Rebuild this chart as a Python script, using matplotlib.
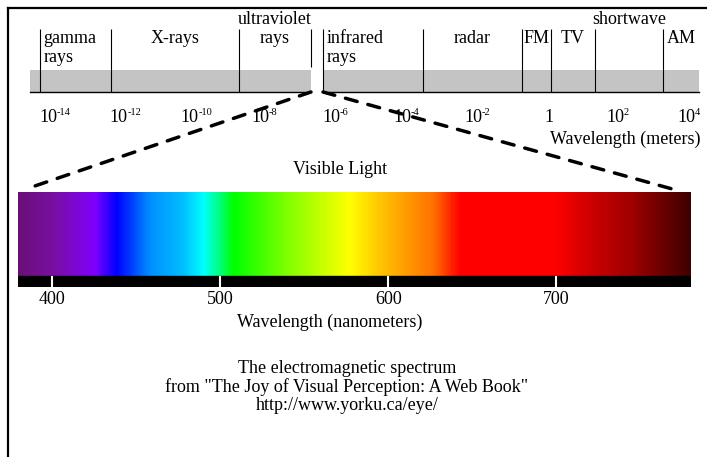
import numpy as np
import matplotlib
matplotlib.use('Agg')
import matplotlib.pyplot as plt
from matplotlib.colors import LinearSegmentedColormap
from matplotlib.patches import ConnectionPatch
from matplotlib.lines import Line2D

plt.rcParams['font.family'] = ['Liberation Serif', 'DejaVu Serif']

# electromagnetic bands, edges in log10(wavelength / m)
band_names = ['gamma\nrays', 'X-rays', 'ultraviolet\nrays', 'infrared\nrays',
              'radar', 'FM', 'TV', 'shortwave', 'AM']
band_lo = [-14.34, -12.34, -8.73, -6.36, -3.54, -0.75, 0.07, 1.31, 3.23]
band_hi = [-12.34, -8.73, -6.70, -3.54, -0.75, 0.07, 1.31, 3.23, 4.24]
strip_left = [-14.63, -6.36]
strip_right = [-6.70, 4.24]

# wavelength ticks (log10 m)
em_ticks = [-14, -12, -10, -8, -6, -4, -2, 0, 2, 4]
em_base = ['10', '10', '10', '10', '10', '10', '10', '1', '10', '10']
em_exp = ['-14', '-12', '-10', '-8', '-6', '-4', '-2', '', '2', '4']

# visible spectrum colours (nm)
vis_nm = [380, 400, 425, 438, 458, 478, 490, 508, 540, 577, 597, 627, 643, 700, 716, 745, 780]
vis_col = ['#6a0f7a', '#7810a0', '#8000ff', '#0000ff', '#0090ff', '#00c0ff', '#00ffff',
           '#00ff00', '#80ff00', '#ffff00', '#ffc000', '#ff7000', '#ff0000', '#ff0000',
           '#d80000', '#a00000', '#400000']
vis_ticks = [400, 500, 600, 700]

W, H = 707, 457
fig = plt.figure(figsize=(W / 100, H / 100), dpi=100)

def fx(x):
    return x / W

def fy(y):
    return 1 - y / H

fs = 13

# top strip
ax = fig.add_axes([0, fy(150), 1, 150 / H])
ax.set_xlim(-15.47, 4.47)
ax.set_ylim(150, 0)
ax.axis('off')
for l, r in zip(strip_left, strip_right):
    ax.fill_between([l, r], 70, 92, color='#c4c4c4', lw=0)
    ax.plot([l, r], [92, 92], color='black', lw=1)
ax.vlines(band_lo, 29, 92, color='black', lw=0.8)
ax.vlines(strip_right[0], 29, 67, color='black', lw=0.8)

for name, lo, hi in zip(band_names, band_lo, band_hi):
    if name.startswith('gamma') or name.startswith('infrared'):
        ax.text(lo + 0.1, 30, name, ha='left', va='top', fontsize=fs, linespacing=1.15)
    elif name.startswith('ultraviolet'):
        ax.text((lo + hi) / 2, 11, name, ha='center', va='top', fontsize=fs, linespacing=1.15)
    elif name == 'shortwave':
        ax.text((lo + hi) / 2, 11, name, ha='center', va='top', fontsize=fs)
    else:
        ax.text((lo + hi) / 2, 30, name, ha='center', va='top', fontsize=fs)

for t, b, e in zip(em_ticks, em_base, em_exp):
    if e:
        ax.annotate(b, (t, 118), xytext=(-3, 0), textcoords='offset points',
                    ha='center', va='center', fontsize=fs)
        ax.annotate(e, (t, 118), xytext=(3, 4), textcoords='offset points',
                    ha='left', va='center', fontsize=7.5)
    else:
        ax.text(t, 118, b, ha='center', va='center', fontsize=fs)

fig.text(fx(550), fy(139), 'Wavelength (meters)', ha='left', va='center', fontsize=fs)

# visible spectrum
ax2 = fig.add_axes([fx(18), fy(287), 673 / W, 95 / H])
ax2.set_xlim(380, 780)
ax2.set_ylim(0, 95)
cmap = LinearSegmentedColormap.from_list(
    'vis', [((n - vis_nm[0]) / (vis_nm[-1] - vis_nm[0]), c) for n, c in zip(vis_nm, vis_col)])
grad = np.linspace(0, 1, 800).reshape(1, -1)
ax2.imshow(grad, aspect='auto', cmap=cmap, extent=(380, 780, 11, 95))
ax2.axhspan(0, 11, color='black')
ax2.vlines(vis_ticks, 0, 11, color='white', lw=1.5)
ax2.set_xticks(vis_ticks)
ax2.set_xticklabels([str(v) for v in vis_ticks], fontsize=fs)
ax2.tick_params(axis='x', length=0, pad=3)
ax2.set_yticks([])
for s in ax2.spines.values():
    s.set_visible(False)

# dashed lines from the gap to the spectrum
for e_top, nm_end, y_end in [(strip_right[0], 386.5, 99), (strip_left[1], 771, 97)]:
    con = ConnectionPatch(xyA=(e_top, 92), coordsA=ax.transData,
                          xyB=(nm_end, y_end), coordsB=ax2.transData,
                          color='black', lw=2.5, linestyle=(0, (3.5, 3.2)))
    fig.add_artist(con)

fig.text(fx(340), fy(169), 'Visible Light', ha='center', va='center', fontsize=fs)
fig.text(fx(330), fy(322), 'Wavelength (nanometers)', ha='center', va='center', fontsize=fs)
fig.text(fx(347), fy(387), 'The electromagnetic spectrum\nfrom "The Joy of Visual Perception: A Web Book"\nhttp://www.yorku.ca/eye/',
         ha='center', va='center', fontsize=fs, linespacing=1.05)

# frame
fig.add_artist(Line2D([fx(8), 1], [fy(8), fy(8)], transform=fig.transFigure, color='black', lw=1.6))
fig.add_artist(Line2D([fx(8), fx(8)], [0, fy(8)], transform=fig.transFigure, color='black', lw=1.6))

fig.savefig('out.png', dpi=100)
